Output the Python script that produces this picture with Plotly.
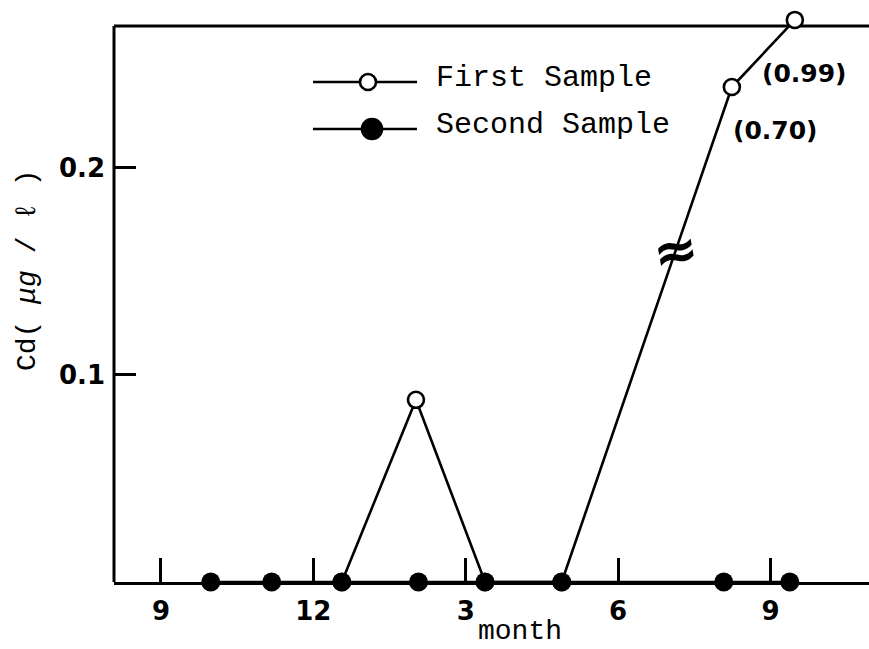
import plotly.graph_objects as go

# ---- data (month index: 0 = September of first year) ----
month_ticks = [0, 3, 6, 9, 12]
month_labels = ["9", "12", "3", "6", "9"]

first_x = [3.56, 5.02, 6.38, 7.89, 11.24, 12.48]
first_cd = [0.0, 0.088, 0.0, 0.0, 0.70, 0.99]

second_x = [0.98, 2.18, 3.56, 5.07, 6.38, 7.89, 11.08, 12.38]
second_cd = [0.0, 0.0, 0.0, 0.0, 0.0, 0.0, 0.0, 0.0]

y_ticks = [0.1, 0.2]
y_tick_labels = ["0.1", "0.2"]

# broken axis: values above the break are compressed into the top strip
BREAK_AT = 0.3
FRAME_TOP = 0.2686


def broken(v):
    return v if v < BREAK_AT else 0.1609 + 0.1117 * v


first_y = [broken(v) for v in first_cd]
second_y = [broken(v) for v in second_cd]

W, H = 869, 649
ML, MR, MT, MB = 114, 0, 5, 67
PW, PH = W - ML - MR, H - MT - MB


def px(x):
    return (x - ML) / PW


def py(y):
    return (H - MB - y) / PH


fig = go.Figure()

fig.add_trace(go.Scatter(
    x=first_x, y=first_y, mode="lines+markers", name="First Sample",
    line=dict(color="black", width=2.6),
    marker=dict(symbol="circle", size=16, color="white",
                line=dict(color="black", width=2.6)),
    cliponaxis=False, showlegend=False))

fig.add_trace(go.Scatter(
    x=second_x, y=second_y, mode="lines+markers", name="Second Sample",
    line=dict(color="black", width=2.6),
    marker=dict(symbol="circle", size=19, color="black"),
    cliponaxis=False, showlegend=False))

# top frame line (broken-axis plot has no right spine)
fig.add_shape(type="line", xref="paper", yref="y", x0=0, x1=1,
              y0=FRAME_TOP, y1=FRAME_TOP, line=dict(color="black", width=3),
              layer="below")

# value labels for the broken-axis points
for xv, v, yv, dx, dy in [(first_x[4], first_cd[4], first_y[4], 44, -43),
                          (first_x[5], first_cd[5], first_y[5], 10, -54)]:
    fig.add_annotation(x=xv, y=yv, xref="x", yref="y", text=f"({v:.2f})",
                       showarrow=False, xshift=dx, yshift=dy,
                       xanchor="center", yanchor="middle",
                       font=dict(family="DejaVu Sans", size=25, color="black",
                                 weight="bold"))

# break mark on the rising segment
frac = 0.67
bx = first_x[3] + frac * (first_x[4] - first_x[3])
by = first_y[3] + frac * (first_y[4] - first_y[3])
fig.add_annotation(x=bx, y=by, xref="x", yref="y", text="≈", showarrow=False,
                   textangle=-10, xanchor="center", yanchor="middle",
                   font=dict(family="DejaVu Sans", size=54, color="black",
                             weight="bold"))

# custom legend
legend_rows = [("First Sample", "white", 16, 82, 368),
               ("Second Sample", "black", 20, 129, 372)]
for label, fill, msize, ypix, cx in legend_rows:
    fig.add_shape(type="line", xref="paper", yref="paper",
                  x0=px(313), x1=px(417), y0=py(ypix), y1=py(ypix),
                  line=dict(color="black", width=2.6))
    r = msize / 2
    fig.add_shape(type="circle", xref="paper", yref="paper",
                  xsizemode="pixel", ysizemode="pixel",
                  xanchor=px(cx), yanchor=py(ypix),
                  x0=-r, x1=r, y0=-r, y1=r,
                  fillcolor=fill, line=dict(color="black", width=2.6))
    fig.add_annotation(x=px(434), y=py(ypix - 4), xref="paper", yref="paper",
                       text=label, showarrow=False, xanchor="left",
                       yanchor="middle",
                       font=dict(family="Liberation Mono", size=30,
                                 color="black"))

# axis titles
fig.add_annotation(x=px(520), y=py(648), xref="paper", yref="paper",
                   text="month", showarrow=False, xanchor="center",
                   yanchor="bottom", borderpad=0,
                   font=dict(family="Liberation Mono", size=28, color="black"))
fig.add_annotation(x=px(27), y=py(270), xref="paper", yref="paper",
                   text="Cd( <i>μg</i> / ℓ )", showarrow=False, textangle=-90,
                   xanchor="center", yanchor="middle",
                   font=dict(family="Liberation Mono", size=28, color="black"))

fig.update_xaxes(range=[-0.925, 13.94], tickvals=month_ticks,
                 ticktext=month_labels, ticks="inside", ticklen=24,
                 tickwidth=2.5, tickcolor="black", showline=True,
                 linecolor="black", linewidth=3, mirror=False, showgrid=False,
                 zeroline=False, ticklabelstandoff=4,
                 tickfont=dict(family="DejaVu Sans", size=26, color="black",
                               weight="bold"))
fig.update_yaxes(range=[0, 0.2787], tickvals=y_ticks,
                 ticktext=y_tick_labels, ticks="inside", ticklen=22,
                 tickwidth=2.5, tickcolor="black", showline=False,
                 showgrid=False, zeroline=False, ticklabelstandoff=8,
                 tickfont=dict(family="DejaVu Sans", size=26, color="black",
                               weight="bold"))

# left spine from the x axis up to the top frame
fig.add_shape(type="line", xref="paper", yref="y", x0=0, x1=0,
              y0=0, y1=FRAME_TOP, line=dict(color="black", width=3),
              layer="below")

fig.update_layout(width=W, height=H, margin=dict(l=ML, r=MR, t=MT, b=MB),
                  paper_bgcolor="white", plot_bgcolor="white",
                  showlegend=False)

fig.write_html("out.html")
